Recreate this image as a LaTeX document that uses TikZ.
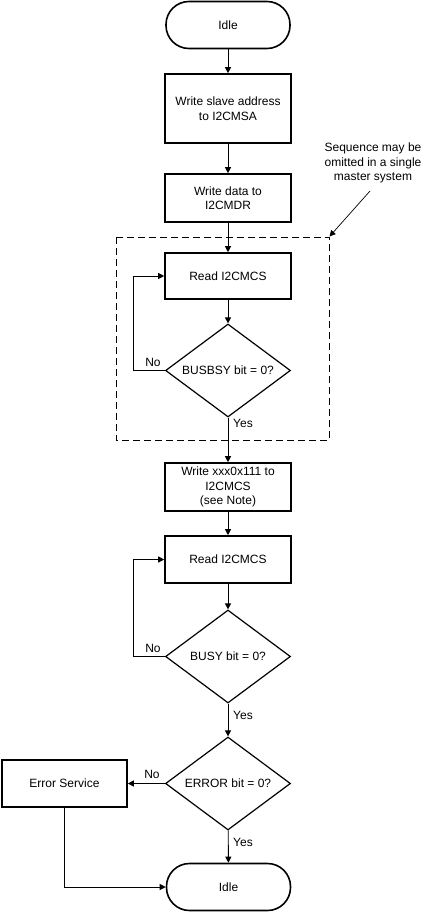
\documentclass[tikz,border=0pt]{standalone}
\usepackage{fontspec}
\setmainfont{Liberation Sans}
\usetikzlibrary{shapes.geometric,arrows.meta}
\begin{document}
\begin{tikzpicture}[x=1pt,y=-1pt,
  every node/.style={font=\fontsize{12}{14.5}\selectfont, align=center},
  pill/.style={draw, line width=1.6pt, rectangle, rounded corners=23pt, minimum width=124pt, minimum height=47pt, inner sep=0pt},
  procbox/.style={draw, line width=1.6pt, rectangle, minimum width=126pt, inner sep=0pt},
  decision/.style={draw, line width=1.2pt, diamond, shape aspect=1.34, inner sep=0pt, minimum width=125pt, minimum height=93pt},
  arr/.style={line width=0.9pt, -{Triangle[length=6pt,width=6pt]}},
  lbl/.style={inner sep=0pt}
]
\useasboundingbox (0,0) rectangle (427,912);
\node[pill] (idle1) at (228,25) {Idle};
\node[procbox, minimum height=69pt] (b1) at (228,108.5) {Write slave address\\to I2CMSA};
\node[procbox, minimum height=48pt] (b2) at (228,198) {Write data to\\I2CMDR};
\node[procbox, minimum height=46pt] (r1) at (228,276) {Read I2CMCS};
\node[decision] (d1) at (228,370.5) {BUSBSY bit = 0?};
\node[procbox, minimum height=48pt] (b3) at (228,487) {Write xxx0x111 to\\I2CMCS\\(see Note)};
\node[procbox, minimum height=47pt] (r2) at (228,559.5) {Read I2CMCS};
\node[decision] (d2) at (228,656.5) {BUSY bit = 0?};
\node[decision] (d3) at (228,783.5) {ERROR bit = 0?};
\node[procbox, minimum width=125pt, minimum height=47pt] (err) at (64.5,783.5) {Error Service};
\node[pill] (idle2) at (228.5,887) {Idle};

% dashed region and note
\draw[dashed, line width=0.9pt, dash pattern=on 7pt off 4pt] (116,237) rectangle (329,440);
\coordinate (corner) at (329.5,236.5);
\node[lbl] (note) at (373,163) {Sequence may be\\omitted in a single\\master system};
\coordinate (notetail) at (370,191);
\draw[arr, line width=0.7pt] (notetail) -- (corner);

% connectors
\draw[arr] (idle1) -- (b1);
\draw[arr] (b1) -- (b2);
\draw[arr] (b2) -- (r1);
\draw[arr] (r1) -- (d1);
\draw[arr] (d1) -- (b3);
\draw[arr] (d1.west) -- ++(-31,0) |- (r1.west);
\draw[arr] (b3) -- (r2);
\draw[arr] (r2) -- (d2);
\draw[arr] (d2.west) -- ++(-31,0) |- (r2.west);
\draw[arr] (d2) -- (d3);
\draw[arr] (d3) -- (idle2);
\draw[arr] (d3) -- (err);
\draw[arr] (err) |- (idle2);

% labels
\node[lbl] at (153,362) {No};
\node[lbl] at (243,423) {Yes};
\node[lbl] at (153,648) {No};
\node[lbl] at (243,715) {Yes};
\node[lbl] at (152,774) {No};
\node[lbl] at (243,842) {Yes};
\end{tikzpicture}
\end{document}
